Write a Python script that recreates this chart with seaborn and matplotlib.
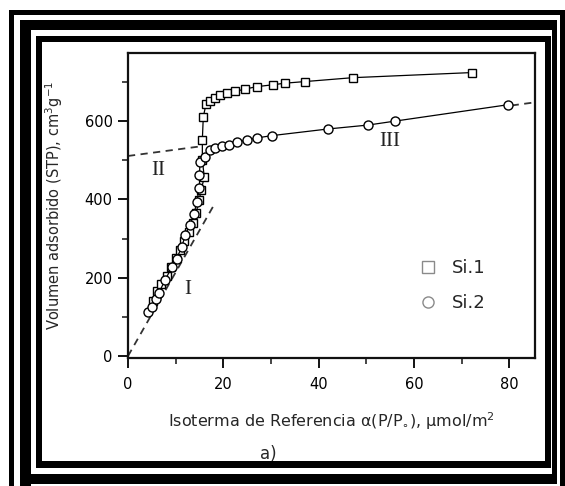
import matplotlib
matplotlib.use("Agg")
import matplotlib.pyplot as plt
import seaborn as sns
from matplotlib.patches import Rectangle
from matplotlib.lines import Line2D
from matplotlib.ticker import MultipleLocator

# ======================================
# DATOS
# ======================================
si1_x = [5.2, 6.0, 7.0, 8.1, 9.0, 10.0, 10.9, 11.8, 12.8, 13.6, 14.3, 14.9, 15.4, 16.0,
         15.6, 15.6, 15.8, 16.4, 17.2, 18.2, 19.3, 20.7, 22.5, 24.6, 27.0, 30.5, 33.0,
         37.1, 47.2, 72.1]
si1_y = [140, 165, 185, 205, 228, 250, 270, 295, 318, 340, 365, 398, 425, 458,
         500, 553, 611, 645, 652, 660, 666, 671, 676, 682, 688, 693, 697,
         701, 711, 724]

si2_x = [4.3, 5.0, 5.8, 6.4, 7.8, 9.2, 10.2, 11.3, 12.0, 13.0, 13.9, 14.4, 15.0, 15.0,
         15.1, 16.2, 17.2, 18.3, 19.7, 21.1, 22.8, 24.9, 27.0, 30.2, 42.0, 50.4, 56.0, 79.8]
si2_y = [112, 126, 145, 160, 194, 228, 249, 279, 309, 335, 364, 394, 430, 462,
         496, 509, 526, 532, 536, 540, 546, 552, 557, 563, 580, 590, 600, 642]

# rectas de referencia (discontinuas); la II-III solo se ve fuera de los datos
lineI_x = [0, 18]
lineI_y = [0, 385]
lineII_x = [0, 15.5]
lineII_y = [511, 536]
lineIII_x = [80.5, 85.4]
lineIII_y = [640, 648]

roman_labels = ["I", "II", "III"]
roman_x = [12.6, 6.3, 55.0]
roman_y = [169, 473, 549]

series_names = ["Si.1", "Si.2"]
xticks = [0, 20, 40, 60, 80]
yticks = [0, 200, 400, 600]

# ======================================
# ESTILO
# ======================================
sns.set_style("ticks")
plt.rcParams["font.family"] = ["DejaVu Sans"]
plt.rcParams["mathtext.fontset"] = "dejavusans"

W, H = 565, 486
fig = plt.figure(figsize=(W / 100, H / 100), dpi=100)
fig.patch.set_facecolor("white")


def px_rect(x0, y0, x1, y1):
    # rectangulo negro en pixeles de la imagen (y hacia abajo)
    fig.add_artist(Rectangle((x0 / W, 1 - y1 / H), (x1 - x0) / W, (y1 - y0) / H,
                             transform=fig.transFigure, color="black", lw=0))


# marco triple
for r in [(9, 10, 565, 15), (9, 10, 14, 486), (560, 10, 565, 486),
          (20, 20, 557, 30), (20, 20, 31, 486), (552, 20, 557, 484), (20, 474, 557, 484),
          (36, 36, 551, 42), (36, 36, 42, 468), (545, 36, 551, 468), (36, 461, 551, 468)]:
    px_rect(*r)

ax = fig.add_axes([128 / W, 1 - 358 / H, (535 - 128) / W, (358 - 53) / H])

# ======================================
# GRAFICO
# ======================================
for lx, ly in [(lineI_x, lineI_y), (lineII_x, lineII_y), (lineIII_x, lineIII_y)]:
    ax.plot(lx, ly, color="#333333", lw=1.3, dashes=(4, 3), zorder=1)

sns.lineplot(x=si1_x, y=si1_y, sort=False, estimator=None, color="black", lw=0.9,
             marker="s", ms=6, markerfacecolor="white", markeredgecolor="black",
             markeredgewidth=1.0, ax=ax, zorder=3)
sns.lineplot(x=si2_x, y=si2_y, sort=False, estimator=None, color="black", lw=0.9,
             marker="o", ms=6.5, markerfacecolor="white", markeredgecolor="black",
             markeredgewidth=1.0, ax=ax, zorder=3)

for lab, x, y in zip(roman_labels, roman_x, roman_y):
    ax.text(x, y, lab, family="Liberation Serif", fontsize=15, ha="center", va="center",
            color="#222222")

handles = [
    Line2D([], [], ls="none", marker="s", ms=8, mfc="none", mec="#8a8a8a", mew=1.0),
    Line2D([], [], ls="none", marker="o", ms=8, mfc="none", mec="#8a8a8a", mew=1.0),
]
ax.legend(handles, series_names, frameon=False, loc="center left",
          bbox_to_anchor=(0.715, 0.238), fontsize=13, handlelength=1.0,
          handletextpad=0.8, labelspacing=0.95, borderpad=0, borderaxespad=0)

ax.set_xlim(0, 85.4)
ax.set_ylim(-5, 774)
ax.set_xticks(xticks)
ax.set_yticks(yticks)
ax.xaxis.set_minor_locator(MultipleLocator(10))
ax.yaxis.set_minor_locator(MultipleLocator(100))
ax.tick_params(which="major", direction="out", length=7, width=1.3, labelsize=10.5,
               colors="black")
ax.tick_params(axis="x", which="major", pad=7)
ax.tick_params(axis="y", which="major", pad=4)
ax.tick_params(which="minor", direction="out", length=4, width=1.2)

for s in ax.spines.values():
    s.set_visible(True)
    s.set_linewidth(1.6)
    s.set_color("#111111")

ax.set_xlabel("Isoterma de Referencia α(P/P$_{\\circ}$), μmol/m$^{2}$", fontsize=11.5,
              labelpad=13)
ax.set_ylabel("Volumen adsorbido (STP), cm$^{3}$g$^{-1}$", fontsize=10.5, labelpad=14)

fig.text(268 / W, 1 - 454 / H, "a)", fontsize=12, ha="center", va="center")

fig.savefig("out.png", dpi=100)
